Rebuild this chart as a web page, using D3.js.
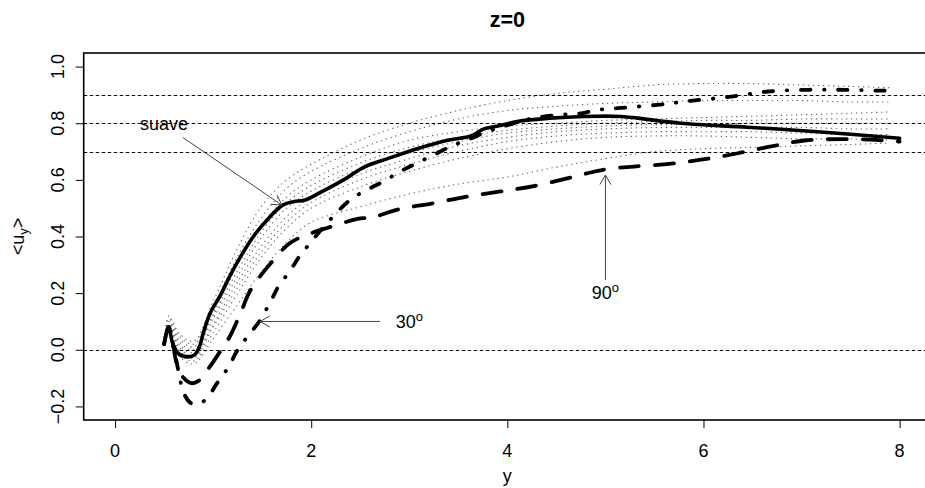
<!DOCTYPE html>
<html>
<head>
<meta charset="utf-8">
<title>z=0</title>
<script src="https://cdn.jsdelivr.net/npm/d3@7"></script>
<style>
  body { margin: 0; background: #fff; }
  svg { font-family: "Liberation Sans", Arial, Helvetica, sans-serif; }
</style>
</head>
<body>
<div id="chart"></div>
<script>
// axis ticks and reference lines
var xTicks = [0, 2, 4, 6, 8];
var yTicks = [-0.2, 0.0, 0.2, 0.4, 0.6, 0.8, 1.0];
var refLines = [0.9, 0.8, 0.7, 0.0];

// "suave" profile (solid)
var suaveX = [0.50, 0.545, 0.59, 0.65, 0.74, 0.81, 0.86, 0.90, 0.97, 1.07, 1.17, 1.24, 1.41, 1.58, 1.71, 1.82, 1.94, 2.09, 2.33, 2.54, 2.78, 3.08, 3.39, 3.63, 3.76, 3.90, 4.10, 4.44, 4.78, 5.16, 5.33, 5.77, 6.45, 7.13, 8.0];
var suaveY = [0.02, 0.08, 0.02, -0.015, -0.025, -0.018, 0.01, 0.06, 0.13, 0.19, 0.26, 0.305, 0.40, 0.47, 0.511, 0.523, 0.529, 0.555, 0.60, 0.645, 0.675, 0.71, 0.74, 0.755, 0.78, 0.79, 0.806, 0.818, 0.824, 0.824, 0.818, 0.80, 0.786, 0.771, 0.747];

// 90 degree profile (long dash)
var a90X = [0.50, 0.545, 0.58, 0.63, 0.70, 0.78, 0.85, 0.92, 1.06, 1.17, 1.28, 1.38, 1.55, 1.78, 1.95, 2.16, 2.50, 2.60, 2.87, 3.25, 3.59, 3.93, 4.27, 4.61, 4.85, 5.02, 5.29, 5.67, 6.01, 6.35, 6.69, 7.03, 7.41, 7.75, 8.0];
var a90Y = [0.02, 0.08, 0.04, -0.05, -0.10, -0.118, -0.11, -0.082, -0.012, 0.047, 0.13, 0.21, 0.29, 0.376, 0.405, 0.43, 0.464, 0.465, 0.494, 0.518, 0.541, 0.559, 0.578, 0.605, 0.626, 0.638, 0.647, 0.657, 0.673, 0.694, 0.718, 0.739, 0.744, 0.741, 0.735];

// 30 degree profile (dot-dash)
var a30X = [0.50, 0.545, 0.60, 0.65, 0.70, 0.78, 0.86, 0.94, 1.04, 1.16, 1.24, 1.35, 1.47, 1.60, 1.66, 1.79, 1.88, 1.99, 2.16, 2.40, 2.57, 2.73, 2.91, 3.07, 3.25, 3.42, 3.59, 3.80, 3.97, 4.27, 4.55, 4.75, 4.92, 5.12, 5.53, 5.87, 6.28, 6.66, 7.07, 7.44, 7.81, 7.98];
var a30Y = [0.02, 0.08, 0.0, -0.08, -0.153, -0.19, -0.19, -0.17, -0.118, -0.059, -0.006, 0.047, 0.10, 0.18, 0.22, 0.282, 0.33, 0.377, 0.447, 0.53, 0.565, 0.593, 0.63, 0.658, 0.688, 0.718, 0.741, 0.771, 0.79, 0.818, 0.83, 0.835, 0.847, 0.853, 0.865, 0.879, 0.894, 0.912, 0.918, 0.918, 0.915, 0.915];

// other angles (gray dotted), common abscissa
var dotX = [0.5, 0.55, 0.65, 0.8, 1.0, 1.25, 1.5, 1.75, 2.0, 2.5, 3.0, 3.5, 4.0, 4.5, 5.0, 5.5, 6.0, 6.5, 7.0, 7.5, 7.9];
var dotY1 = [0.03, 0.12, 0.06, 0.03, 0.17, 0.36, 0.51, 0.60, 0.655, 0.74, 0.80, 0.845, 0.88, 0.905, 0.92, 0.935, 0.94, 0.94, 0.935, 0.93, 0.925];
var dotY2 = [0.03, 0.11, 0.05, 0.02, 0.15, 0.33, 0.47, 0.57, 0.63, 0.71, 0.77, 0.815, 0.845, 0.86, 0.87, 0.875, 0.88, 0.88, 0.88, 0.875, 0.875];
var dotY3 = [0.03, 0.10, 0.04, 0.01, 0.13, 0.30, 0.44, 0.54, 0.60, 0.68, 0.74, 0.77, 0.79, 0.80, 0.81, 0.815, 0.82, 0.825, 0.83, 0.835, 0.84];
var dotY4 = [0.03, 0.10, 0.03, 0.00, 0.12, 0.28, 0.42, 0.52, 0.58, 0.66, 0.715, 0.75, 0.775, 0.79, 0.80, 0.805, 0.81, 0.81, 0.815, 0.815, 0.815];
var dotY5 = [0.03, 0.09, 0.02, -0.01, 0.11, 0.26, 0.40, 0.50, 0.56, 0.64, 0.695, 0.735, 0.765, 0.78, 0.79, 0.795, 0.795, 0.80, 0.80, 0.80, 0.80];
var dotY6 = [0.03, 0.09, 0.01, -0.02, 0.09, 0.24, 0.37, 0.47, 0.54, 0.62, 0.675, 0.72, 0.75, 0.77, 0.78, 0.785, 0.785, 0.785, 0.785, 0.78, 0.78];
var dotY7 = [0.03, 0.08, 0.00, -0.03, 0.08, 0.22, 0.35, 0.45, 0.52, 0.60, 0.655, 0.70, 0.735, 0.755, 0.765, 0.77, 0.77, 0.77, 0.765, 0.76, 0.76];
var dotY8 = [0.03, 0.08, -0.01, -0.04, 0.06, 0.20, 0.33, 0.43, 0.50, 0.575, 0.63, 0.675, 0.71, 0.735, 0.75, 0.755, 0.755, 0.75, 0.745, 0.745, 0.74];
var dotY9 = [0.03, 0.07, -0.02, -0.05, 0.04, 0.16, 0.28, 0.38, 0.45, 0.505, 0.55, 0.585, 0.61, 0.645, 0.675, 0.70, 0.71, 0.715, 0.72, 0.725, 0.73];
var dotCurves = [dotY1, dotY2, dotY3, dotY4, dotY5, dotY6, dotY7, dotY8, dotY9];

var width = 925, height = 488;
var pL = 83.7, pR = 931, pT = 53, pB = 420;

var x = d3.scaleLinear().domain([-0.32, 8.32]).range([pL, pR]);
var y = d3.scaleLinear().domain([-0.248, 1.048]).range([pB, pT]);

var svg = d3.select("#chart").append("svg")
    .attr("width", width)
    .attr("height", height);

svg.append("defs").append("clipPath").attr("id", "plotclip")
    .append("rect")
    .attr("x", pL).attr("y", pT)
    .attr("width", pR - pL).attr("height", pB - pT);

var plot = svg.append("g").attr("clip-path", "url(#plotclip)");

var line = d3.line()
    .x(function (d) { return x(d[0]); })
    .y(function (d) { return y(d[1]); })
    .curve(d3.curveCatmullRom.alpha(0.5));

// dotted curves
dotCurves.forEach(function (ys) {
    plot.append("path")
        .attr("d", line(d3.zip(dotX, ys)))
        .attr("fill", "none")
        .attr("stroke", "#666")
        .attr("stroke-width", 1.1)
        .attr("stroke-dasharray", "1.3,3.7");
});

// horizontal reference lines
plot.selectAll(".ref")
    .data(refLines).enter()
    .append("line")
    .attr("class", "ref")
    .attr("x1", pL).attr("x2", pR)
    .attr("y1", function (d) { return Math.round(y(d)) + 0.5; })
    .attr("y2", function (d) { return Math.round(y(d)) + 0.5; })
    .attr("stroke", "#000")
    .attr("stroke-width", 1)
    .attr("stroke-dasharray", "3.5,2.5");

// thick profiles
plot.append("path")
    .attr("d", line(d3.zip(a90X, a90Y)))
    .attr("fill", "none").attr("stroke", "#000")
    .attr("stroke-width", 3.8)
    .attr("stroke-linecap", "round")
    .attr("stroke-dasharray", "19,16");

plot.append("path")
    .attr("d", line(d3.zip(a30X, a30Y)))
    .attr("fill", "none").attr("stroke", "#000")
    .attr("stroke-width", 3.8)
    .attr("stroke-linecap", "round")
    .attr("stroke-dasharray", "0.5,13.6,9.5,13.6");

plot.append("path")
    .attr("d", line(d3.zip(suaveX, suaveY)))
    .attr("fill", "none").attr("stroke", "#000")
    .attr("stroke-width", 3.6)
    .attr("stroke-linecap", "round")
    .attr("stroke-linejoin", "round");

// axes
var xAxis = svg.append("g")
    .attr("transform", "translate(0," + pB + ")")
    .call(d3.axisBottom(x).tickValues(xTicks).tickSize(8).tickFormat(""));
xAxis.select(".domain").remove();
xAxis.selectAll(".tick line").attr("stroke", "#000");

xTicks.forEach(function (v) {
    svg.append("text")
        .attr("x", x(v)).attr("y", 457)
        .attr("text-anchor", "middle")
        .attr("font-size", 18)
        .text(v);
});

var yAxis = svg.append("g")
    .attr("transform", "translate(" + pL + ",0)")
    .call(d3.axisLeft(y).tickValues(yTicks).tickSize(8).tickFormat(""));
yAxis.select(".domain").remove();
yAxis.selectAll(".tick line").attr("stroke", "#000");

var fmt = d3.format(".1f");
yTicks.forEach(function (v) {
    svg.append("text")
        .attr("transform", "translate(63.5," + y(v) + ") rotate(-90)")
        .attr("text-anchor", "middle")
        .attr("font-size", 18)
        .text(fmt(v));
});

// plot box
svg.append("rect")
    .attr("x", pL).attr("y", pT)
    .attr("width", pR - pL).attr("height", pB - pT)
    .attr("fill", "none").attr("stroke", "#000").attr("stroke-width", 1.6);

// titles
svg.append("text")
    .attr("x", (pL + pR) / 2).attr("y", 27)
    .attr("text-anchor", "middle")
    .attr("font-size", 21.6).attr("font-weight", "bold")
    .text("z=0");

svg.append("text")
    .attr("x", (pL + pR) / 2).attr("y", 482)
    .attr("text-anchor", "middle")
    .attr("font-size", 18)
    .text("y");

var yt = svg.append("text")
    .attr("transform", "translate(24," + ((pT + pB) / 2) + ") rotate(-90)")
    .attr("text-anchor", "middle")
    .attr("font-size", 18);
yt.append("tspan").text("<u");
yt.append("tspan").attr("font-size", 13).attr("dy", 4).text("y");
yt.append("tspan").attr("dy", -4).text(">");

// annotations
function arrow(x0, y0, x1, y1) {
    var p0 = [x(x0), y(y0)], p1 = [x(x1), y(y1)];
    var ang = Math.atan2(p1[1] - p0[1], p1[0] - p0[0]);
    var len = 11, spread = Math.PI / 6;
    var g = svg.append("g").attr("stroke", "#444").attr("stroke-width", 1).attr("fill", "none");
    g.append("line").attr("x1", p0[0]).attr("y1", p0[1]).attr("x2", p1[0]).attr("y2", p1[1]);
    [-spread, spread].forEach(function (s) {
        g.append("line")
            .attr("x1", p1[0]).attr("y1", p1[1])
            .attr("x2", p1[0] - len * Math.cos(ang + s))
            .attr("y2", p1[1] - len * Math.sin(ang + s));
    });
}

function degLabel(xv, yv, num) {
    var t = svg.append("text")
        .attr("x", x(xv)).attr("y", y(yv))
        .attr("dy", "0.35em")
        .attr("text-anchor", "middle")
        .attr("font-size", 18);
    t.append("tspan").text(num);
    t.append("tspan").attr("font-size", 13).attr("dy", -7).text("o");
}

svg.append("text")
    .attr("x", x(0.5)).attr("y", y(0.8))
    .attr("dy", "0.35em")
    .attr("text-anchor", "middle")
    .attr("font-size", 18)
    .text("suave");
arrow(0.69, 0.75, 1.70, 0.511);

arrow(2.70, 0.1, 1.48, 0.1);
degLabel(3.0, 0.1, "30");

arrow(5.0, 0.246, 5.0, 0.617);
degLabel(5.0, 0.2, "90");
</script>
</body>
</html>
